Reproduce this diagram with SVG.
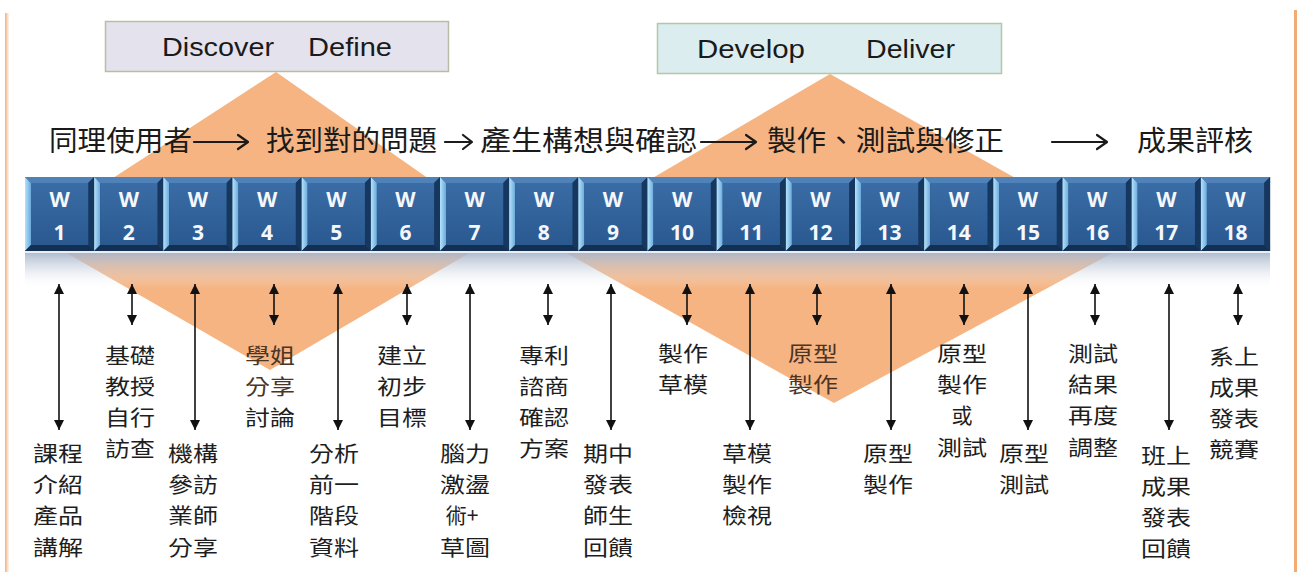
<svg xmlns="http://www.w3.org/2000/svg" xmlns:xlink="http://www.w3.org/1999/xlink" width="1297" height="572" viewBox="0 0 1297 572">
<style>
.phase{font-family:"Liberation Sans",Arial,sans-serif;font-size:26px;fill:#1a1a1a}
.row{font-family:"Noto Sans CJK TC","Noto Sans CJK SC",sans-serif;font-size:28px;fill:#1a1a1a}
.wk{font-family:"Open Sans","Liberation Sans",sans-serif;font-size:21px;font-weight:700;fill:#f4f7fb;text-anchor:middle}
.lab{font-family:"Noto Sans CJK TC","Noto Sans CJK SC",sans-serif;font-size:21px;fill:#1e1e1e;text-anchor:middle}
.lab.on{fill:#4d3526}
.conn{stroke:#111;stroke-width:1.6;fill:none;marker-start:url(#ah);marker-end:url(#ah)}
.tarr{stroke:#1a1a1a;stroke-width:2.2;fill:none;stroke-linecap:round;stroke-linejoin:round}
.dia{fill:#f5b482}
</style>
<defs>
<marker id="ah" viewBox="0 0 10 10" refX="10" refY="5" markerWidth="10" markerHeight="10" markerUnits="userSpaceOnUse" orient="auto-start-reverse">
<path d="M0,0 L10,5 L0,10 z" fill="#111"/>
</marker>
<linearGradient id="lb" x1="0" y1="0" x2="1" y2="0">
<stop offset="0" stop-color="#b4e3fa"/><stop offset="1" stop-color="#6aa9dc"/>
</linearGradient>
<linearGradient id="face" x1="0" y1="0" x2="0" y2="1">
<stop offset="0" stop-color="#3a6ca5"/><stop offset="1" stop-color="#2a5990"/>
</linearGradient>
<linearGradient id="refl" x1="0" y1="0" x2="0" y2="1">
<stop offset="0" stop-color="#a7b5cb" stop-opacity="0.9"/><stop offset="0.45" stop-color="#c3cddc" stop-opacity="0.45"/><stop offset="1" stop-color="#ffffff" stop-opacity="0"/>
</linearGradient>
<linearGradient id="sideL" x1="0" y1="0" x2="1" y2="0">
<stop offset="0" stop-color="#f3ab74"/><stop offset="1" stop-color="#f8d2b4" stop-opacity="0.3"/>
</linearGradient>
<g id="cell">
<rect x="0" y="177" width="69.2" height="74" fill="#1b426f"/>
<polygon points="0,177 69.2,177 63.2,183 6,183" fill="#4f82b8"/>
<polygon points="0,177 6,183 6,245 0,251" fill="url(#lb)"/>
<polygon points="69.2,177 69.2,251 63.2,245 63.2,183" fill="#163760"/>
<polygon points="0,251 69.2,251 63.2,245 6,245" fill="#132f52"/>
<rect x="6" y="183" width="57.2" height="62" fill="url(#face)"/>
</g>
</defs>
<rect x="0" y="0" width="1297" height="572" fill="#ffffff"/>
<g id="borders">
<rect x="5" y="13" width="4" height="559" fill="url(#sideL)"/>
<rect x="1294" y="10" width="3" height="562" fill="#f3ab74"/>
</g>
<g id="diamonds">
<polygon class="dia" points="276,72 505,232 270,370 30,232"/>
<polygon class="dia" points="830,74 1131,243 834,403 545,241"/>
</g>
<g id="phase-discover">
<rect x="105.5" y="21.5" width="343" height="50" fill="#e4e2ec" stroke="#b8bea5" stroke-width="1.5"/>
<text class="phase" x="162" y="56" textLength="112" lengthAdjust="spacingAndGlyphs">Discover</text>
<text class="phase" x="308" y="56" textLength="84" lengthAdjust="spacingAndGlyphs">Define</text>
</g>
<g id="phase-develop">
<rect x="657.5" y="23.5" width="344" height="50" fill="#dcedf0" stroke="#b5c7a4" stroke-width="1.5"/>
<text class="phase" x="697" y="58" textLength="108" lengthAdjust="spacingAndGlyphs">Develop</text>
<text class="phase" x="866" y="58" textLength="89" lengthAdjust="spacingAndGlyphs">Deliver</text>
</g>
<g id="process-row">
<text class="row" x="49" y="151" textLength="143" lengthAdjust="spacingAndGlyphs">同理使用者</text>
<text class="row" x="266" y="151" textLength="171" lengthAdjust="spacingAndGlyphs">找到對的問題</text>
<text class="row" x="480" y="151" textLength="217" lengthAdjust="spacingAndGlyphs">產生構想與確認</text>
<text class="row" x="767" y="151" textLength="237" lengthAdjust="spacingAndGlyphs">製作、測試與修正</text>
<text class="row" x="1137" y="151" textLength="116" lengthAdjust="spacingAndGlyphs">成果評核</text>
<path class="tarr" d="M194,142 H248 M238,135 L248,142 L238,149"/>
<path class="tarr" d="M445,142 H472 M463,135 L472,142 L463,149"/>
<path class="tarr" d="M701,142 H756 M746,135 L756,142 L746,149"/>
<path class="tarr" d="M1052,142 H1107 M1097,135 L1107,142 L1097,149"/>
</g>
<g id="weeks">
<g id="w1" transform="translate(25,0)"><use href="#cell"/><text class="wk" x="34.6" y="207">W</text><text class="wk" x="34.6" y="240">1</text></g>
<g id="w2" transform="translate(94.2,0)"><use href="#cell"/><text class="wk" x="34.6" y="207">W</text><text class="wk" x="34.6" y="240">2</text></g>
<g id="w3" transform="translate(163.3,0)"><use href="#cell"/><text class="wk" x="34.6" y="207">W</text><text class="wk" x="34.6" y="240">3</text></g>
<g id="w4" transform="translate(232.5,0)"><use href="#cell"/><text class="wk" x="34.6" y="207">W</text><text class="wk" x="34.6" y="240">4</text></g>
<g id="w5" transform="translate(301.7,0)"><use href="#cell"/><text class="wk" x="34.6" y="207">W</text><text class="wk" x="34.6" y="240">5</text></g>
<g id="w6" transform="translate(370.9,0)"><use href="#cell"/><text class="wk" x="34.6" y="207">W</text><text class="wk" x="34.6" y="240">6</text></g>
<g id="w7" transform="translate(440,0)"><use href="#cell"/><text class="wk" x="34.6" y="207">W</text><text class="wk" x="34.6" y="240">7</text></g>
<g id="w8" transform="translate(509.2,0)"><use href="#cell"/><text class="wk" x="34.6" y="207">W</text><text class="wk" x="34.6" y="240">8</text></g>
<g id="w9" transform="translate(578.4,0)"><use href="#cell"/><text class="wk" x="34.6" y="207">W</text><text class="wk" x="34.6" y="240">9</text></g>
<g id="w10" transform="translate(647.5,0)"><use href="#cell"/><text class="wk" x="34.6" y="207">W</text><text class="wk" x="34.6" y="240">10</text></g>
<g id="w11" transform="translate(716.7,0)"><use href="#cell"/><text class="wk" x="34.6" y="207">W</text><text class="wk" x="34.6" y="240">11</text></g>
<g id="w12" transform="translate(785.9,0)"><use href="#cell"/><text class="wk" x="34.6" y="207">W</text><text class="wk" x="34.6" y="240">12</text></g>
<g id="w13" transform="translate(855,0)"><use href="#cell"/><text class="wk" x="34.6" y="207">W</text><text class="wk" x="34.6" y="240">13</text></g>
<g id="w14" transform="translate(924.2,0)"><use href="#cell"/><text class="wk" x="34.6" y="207">W</text><text class="wk" x="34.6" y="240">14</text></g>
<g id="w15" transform="translate(993.4,0)"><use href="#cell"/><text class="wk" x="34.6" y="207">W</text><text class="wk" x="34.6" y="240">15</text></g>
<g id="w16" transform="translate(1062.6,0)"><use href="#cell"/><text class="wk" x="34.6" y="207">W</text><text class="wk" x="34.6" y="240">16</text></g>
<g id="w17" transform="translate(1131.7,0)"><use href="#cell"/><text class="wk" x="34.6" y="207">W</text><text class="wk" x="34.6" y="240">17</text></g>
<g id="w18" transform="translate(1200.9,0)"><use href="#cell"/><text class="wk" x="34.6" y="207">W</text><text class="wk" x="34.6" y="240">18</text></g>
</g>
<g id="reflection">
<rect x="25" y="251" width="1245" height="2" fill="#e9eef6"/>
<rect x="25" y="253" width="1245" height="36" fill="url(#refl)"/>
</g>
<g id="connectors">
<line class="conn" x1="59" y1="284" x2="59" y2="430"/>
<line class="conn" x1="132" y1="284" x2="132" y2="325"/>
<line class="conn" x1="195" y1="284" x2="195" y2="430"/>
<line class="conn" x1="274" y1="284" x2="274" y2="325"/>
<line class="conn" x1="338" y1="284" x2="338" y2="430"/>
<line class="conn" x1="407" y1="284" x2="407" y2="325"/>
<line class="conn" x1="470" y1="284" x2="470" y2="430"/>
<line class="conn" x1="548" y1="284" x2="548" y2="325"/>
<line class="conn" x1="611" y1="284" x2="611" y2="430"/>
<line class="conn" x1="687" y1="284" x2="687" y2="325"/>
<line class="conn" x1="750" y1="284" x2="750" y2="430"/>
<line class="conn" x1="817" y1="284" x2="817" y2="325"/>
<line class="conn" x1="891" y1="284" x2="891" y2="430"/>
<line class="conn" x1="964" y1="284" x2="964" y2="325"/>
<line class="conn" x1="1028" y1="284" x2="1028" y2="430"/>
<line class="conn" x1="1095" y1="284" x2="1095" y2="325"/>
<line class="conn" x1="1169" y1="284" x2="1169" y2="430"/>
<line class="conn" x1="1238" y1="284" x2="1238" y2="325"/>
</g>
<g id="l1"><text class="lab" x="58" y="461" textLength="50" lengthAdjust="spacingAndGlyphs">課程</text><text class="lab" x="58" y="492" textLength="50" lengthAdjust="spacingAndGlyphs">介紹</text><text class="lab" x="58" y="523" textLength="50" lengthAdjust="spacingAndGlyphs">產品</text><text class="lab" x="58" y="555" textLength="50" lengthAdjust="spacingAndGlyphs">講解</text></g>
<g id="l2"><text class="lab" x="130" y="363" textLength="50" lengthAdjust="spacingAndGlyphs">基礎</text><text class="lab" x="130" y="394" textLength="50" lengthAdjust="spacingAndGlyphs">教授</text><text class="lab" x="130" y="425" textLength="50" lengthAdjust="spacingAndGlyphs">自行</text><text class="lab" x="130" y="456" textLength="50" lengthAdjust="spacingAndGlyphs">訪查</text></g>
<g id="l3"><text class="lab" x="193" y="461" textLength="50" lengthAdjust="spacingAndGlyphs">機構</text><text class="lab" x="193" y="492" textLength="50" lengthAdjust="spacingAndGlyphs">參訪</text><text class="lab" x="193" y="523" textLength="50" lengthAdjust="spacingAndGlyphs">業師</text><text class="lab" x="193" y="555" textLength="50" lengthAdjust="spacingAndGlyphs">分享</text></g>
<g id="l4"><text class="lab on" x="270" y="363" textLength="50" lengthAdjust="spacingAndGlyphs">學姐</text><text class="lab on" x="270" y="394" textLength="50" lengthAdjust="spacingAndGlyphs">分享</text><text class="lab" x="270" y="425" textLength="50" lengthAdjust="spacingAndGlyphs">討論</text></g>
<g id="l5"><text class="lab" x="334" y="461" textLength="50" lengthAdjust="spacingAndGlyphs">分析</text><text class="lab" x="334" y="492" textLength="50" lengthAdjust="spacingAndGlyphs">前一</text><text class="lab" x="334" y="523" textLength="50" lengthAdjust="spacingAndGlyphs">階段</text><text class="lab" x="334" y="555" textLength="50" lengthAdjust="spacingAndGlyphs">資料</text></g>
<g id="l6"><text class="lab" x="402" y="363" textLength="50" lengthAdjust="spacingAndGlyphs">建立</text><text class="lab" x="402" y="394" textLength="50" lengthAdjust="spacingAndGlyphs">初步</text><text class="lab" x="402" y="425" textLength="50" lengthAdjust="spacingAndGlyphs">目標</text></g>
<g id="l7"><text class="lab" x="465" y="461" textLength="50" lengthAdjust="spacingAndGlyphs">腦力</text><text class="lab" x="465" y="492" textLength="50" lengthAdjust="spacingAndGlyphs">激盪</text><text class="lab" x="462" y="523">術+</text><text class="lab" x="465" y="555" textLength="50" lengthAdjust="spacingAndGlyphs">草圖</text></g>
<g id="l8"><text class="lab" x="544" y="363" textLength="50" lengthAdjust="spacingAndGlyphs">專利</text><text class="lab" x="544" y="394" textLength="50" lengthAdjust="spacingAndGlyphs">諮商</text><text class="lab" x="544" y="425" textLength="50" lengthAdjust="spacingAndGlyphs">確認</text><text class="lab" x="544" y="456" textLength="50" lengthAdjust="spacingAndGlyphs">方案</text></g>
<g id="l9"><text class="lab" x="608" y="461" textLength="50" lengthAdjust="spacingAndGlyphs">期中</text><text class="lab" x="608" y="492" textLength="50" lengthAdjust="spacingAndGlyphs">發表</text><text class="lab" x="608" y="523" textLength="50" lengthAdjust="spacingAndGlyphs">師生</text><text class="lab" x="608" y="555" textLength="50" lengthAdjust="spacingAndGlyphs">回饋</text></g>
<g id="l10"><text class="lab" x="683" y="361" textLength="50" lengthAdjust="spacingAndGlyphs">製作</text><text class="lab" x="683" y="392" textLength="50" lengthAdjust="spacingAndGlyphs">草模</text></g>
<g id="l11"><text class="lab" x="747" y="461" textLength="50" lengthAdjust="spacingAndGlyphs">草模</text><text class="lab" x="747" y="492" textLength="50" lengthAdjust="spacingAndGlyphs">製作</text><text class="lab" x="747" y="523" textLength="50" lengthAdjust="spacingAndGlyphs">檢視</text></g>
<g id="l12"><text class="lab on" x="813" y="361" textLength="50" lengthAdjust="spacingAndGlyphs">原型</text><text class="lab on" x="813" y="392" textLength="50" lengthAdjust="spacingAndGlyphs">製作</text></g>
<g id="l13"><text class="lab" x="888" y="461" textLength="50" lengthAdjust="spacingAndGlyphs">原型</text><text class="lab" x="888" y="492" textLength="50" lengthAdjust="spacingAndGlyphs">製作</text></g>
<g id="l14"><text class="lab" x="962" y="361" textLength="50" lengthAdjust="spacingAndGlyphs">原型</text><text class="lab" x="962" y="392" textLength="50" lengthAdjust="spacingAndGlyphs">製作</text><text class="lab" x="962" y="423">或</text><text class="lab" x="962" y="455" textLength="50" lengthAdjust="spacingAndGlyphs">測試</text></g>
<g id="l15"><text class="lab" x="1024" y="461" textLength="50" lengthAdjust="spacingAndGlyphs">原型</text><text class="lab" x="1024" y="492" textLength="50" lengthAdjust="spacingAndGlyphs">測試</text></g>
<g id="l16"><text class="lab" x="1093" y="361" textLength="50" lengthAdjust="spacingAndGlyphs">測試</text><text class="lab" x="1093" y="392" textLength="50" lengthAdjust="spacingAndGlyphs">結果</text><text class="lab" x="1093" y="423" textLength="50" lengthAdjust="spacingAndGlyphs">再度</text><text class="lab" x="1093" y="455" textLength="50" lengthAdjust="spacingAndGlyphs">調整</text></g>
<g id="l17"><text class="lab" x="1166" y="463" textLength="50" lengthAdjust="spacingAndGlyphs">班上</text><text class="lab" x="1166" y="494" textLength="50" lengthAdjust="spacingAndGlyphs">成果</text><text class="lab" x="1166" y="525" textLength="50" lengthAdjust="spacingAndGlyphs">發表</text><text class="lab" x="1166" y="556" textLength="50" lengthAdjust="spacingAndGlyphs">回饋</text></g>
<g id="l18"><text class="lab" x="1234" y="364" textLength="50" lengthAdjust="spacingAndGlyphs">系上</text><text class="lab" x="1234" y="395" textLength="50" lengthAdjust="spacingAndGlyphs">成果</text><text class="lab" x="1234" y="426" textLength="50" lengthAdjust="spacingAndGlyphs">發表</text><text class="lab" x="1234" y="457" textLength="50" lengthAdjust="spacingAndGlyphs">競賽</text></g>
</svg>
